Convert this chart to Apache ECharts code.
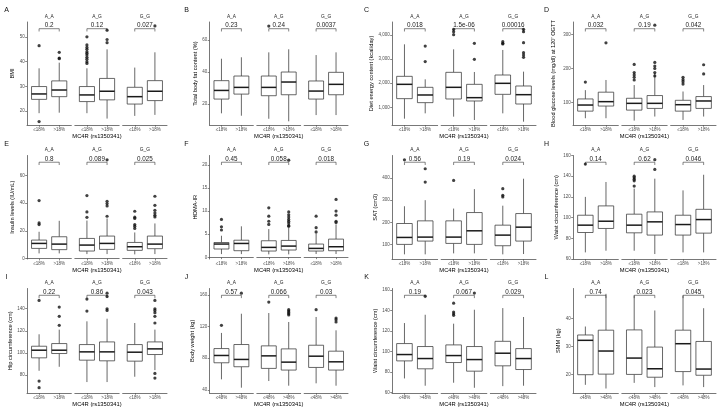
<!DOCTYPE html>
<html><head><meta charset="utf-8">
<script src="https://cdn.jsdelivr.net/npm/echarts@6/dist/echarts.min.js"></script>
<style>html,body{margin:0;padding:0;background:#fff}#c{width:724px;height:411px}</style>
</head><body><div id="c"></div>
<script>
// ---------------- DATA ----------------
const panelLetters = ['A','B','C','D','E','F','G','H','I','J','K','L'];
const yTitles = ['BMI','Total body fat content (%)','Diet energy content (kcal/day)',"Blood glucose levels (mg/dl) at 120' OGTT",
  'Insulin levels (IU/mL)','HOMA-IR','SAT (cm3)','Waist circumference (cm)',
  'Hip circumference (cm)','Body weight (kg)','Waist circumference (cm)','SMM (kg)'];
const genotypes = ['A_A','A_G','G_G'];
const groups18 = ['≤18%','>18%'];
const groups48 = ['≤48%','>48%'];
const xTitle = 'MC4R (rs1350341)';
const yTickValues = [
  [20,30,40,50],[20,40,60],[1000,2000,3000,4000],[100,200,300],
  [0,20,40,60],[0,5,10,15,20],[100,200,300,400],[60,80,100,120,140,160],
  [80,100,120,140],[40,80,120,160],[60,80,100,120,140,160],[20,30,40]
];
const yLimits = [
  [14.3,56.1],[6.9,71.25],[267,4540],[33,337.4],
  [-0.24,74.4],[-0.36,22],[34,502],[60,160],
  [63.8,158.3],[36.2,167.9],[59.4,161.3],[13.5,50.6]
];
const pValues = [
  ['0.2','0.12','0.027'],['0.23','0.24','0.0037'],['0.018','1.5e-06','0.00016'],['0.032','0.19','0.042'],
  ['0.8','0.089','0.025'],['0.45','0.058','0.018'],['0.56','0.19','0.024'],['0.14','0.62','0.046'],
  ['0.22','0.86','0.043'],['0.57','0.066','0.03'],['0.19','0.067','0.029'],['0.74','0.023','0.045']
];
// box stats per genotype: [[min,q1,median,q3,max] for low group, same for high group]
const bmiBoxes = [[[19.1,24.7,26.9,29.9,37.3],[19.3,25.8,28.5,32.2,39.6]],
                  [[19.1,23.8,26.5,29.9,37.3],[16.9,24.5,28.0,33.2,45.0]],
                  [[18.0,22.8,25.8,29.6,37.6],[18.4,24.2,28.0,32.3,43.8]]];
const bmiOutliers = [[[0,46.5],[0,15.7],[1,43.8],[1,41.5],[1,41.2]],
                     [[0,50.1],[0,46.8],[0,45.8],[0,45.0],[0,44.0],[0,43.4],[0,42.7],[0,41.8],[0,41.0],[0,40.0],[0,39.3],[1,52.8],[1,49.0],[1,47.7]],
                     [[1,54.5]]];
const fatBoxes = [[[14.2,23.1,28.5,34.6,48.3],[12.7,26.2,30.4,37.5,49.2]],
                  [[10.8,25.2,30.4,37.5,52.3],[9.2,25.8,33.75,40.0,54.2]],
                  [[13.1,23.1,28.1,34.4,50.6],[13.1,25.8,32.3,39.8,52.3]]];
const fatOutliers = [[],[[0,68.7]],[]];
const energyBoxes = [[[530,1360,1954,2286,3614],[751,1194,1512,1830,2162]],
                     [[613,1346,1830,2452,3406],[474,1263,1401,1954,2466]],
                     [[751,1539,1996,2341,3380],[405,1138,1525,1885,2480]]];
const energyOutliers = [[[1,2900],[1,3540]],
                        [[0,4236],[0,4139],[0,4015],[1,3655],[1,2991]],
                        [[0,3725],[0,3655],[0,3628],[1,4236],[1,4139],[1,3683],[1,3268],[1,3170],[1,3075]]];
const glucoseBoxes = [[[53,74,92,110,136],[53,89,102,130,166]],
                      [[46,77,97,112,151],[58,82,97,120,186]],
                      [[48,74,93,106,132],[58,82,104,117,151]]];
const glucoseOutliers = [[[0,160],[1,276]],
                         [[0,212],[0,188],[0,181],[0,174],[0,166],[1,328],[1,218],[1,207],[1,200],[1,188],[1,178]],
                         [[0,174],[0,167],[0,161],[0,154],[1,211],[1,184]]];
const insulinBoxes = [[[3.8,7.4,11.0,13.4,19.4],[3.8,6.5,10.5,15.8,27.3]],
                      [[3.3,5.5,9.8,14.6,27.5],[3.3,6.7,11.0,16.3,29.0]],
                      [[3.1,6.0,8.6,11.7,18.9],[3.3,7.2,10.5,16.3,25.4]]];
const insulinOutliers = [[[0,41.9],[0,25.8],[0,24.6]],
                         [[0,45.5],[0,33.7],[0,29.8],[1,71.3],[1,41.4],[1,39.7],[1,38.0],[1,30.6]],
                         [[0,34.2],[0,29.9],[0,29.0],[0,24.6],[0,23.4],[0,21.8],[1,45.0],[1,38.5],[1,34.9],[1,33.0],[1,31.3],[1,30.1]]];
const homaBoxes = [[[0.7,1.8,2.87,3.2,4.66],[0.7,1.43,3.0,3.7,6.7]],
                   [[0.64,1.36,2.15,3.58,6.1],[0.64,1.58,2.43,3.65,6.4]],
                   [[0.72,1.36,1.93,2.87,5.2],[0.72,1.43,2.29,3.94,7.1]]];
const homaOutliers = [[[0,8.2],[0,6.6],[0,5.9]],
                      [[0,10.7],[0,8.9],[0,7.8],[0,7.1],[1,21.0],[1,9.8],[1,9.2],[1,8.7],[1,8.2],[1,7.8],[1,7.4],[1,6.9],[1,6.7]],
                      [[0,8.9],[0,6.4],[0,5.5],[1,12.5],[1,10.0],[1,9.1],[1,7.8],[1,7.5]]];
const satBoxes = [[[55,100,131.5,194.5,272.5],[55,115,133,206.5,300]],
                  [[59.5,104.5,133,206.5,262],[59.5,100,161.5,244,350]],
                  [[55,94,142,187,275],[56.5,115,178,239.5,397]]];
const satOutliers = [[[0,482.5],[1,442],[1,382]],
                     [[0,389.5]],
                     [[0,352],[0,322],[0,314.5]]];
const waistBoxes = [[[66.4,85.6,92.7,102.3,120],[68,89.5,96.5,111.3,134.4]],
                    [[68,85.3,92.7,103.3,128],[64.8,83.1,95.9,105.5,137.6]],
                    [[66.4,83.1,93.3,102.3,126.3],[66.4,85,98.1,108,141.4]]];
const waistOutliers = [[[0,151.7]],
                       [[0,140],[0,138.5],[0,137],[0,135.5],[0,130.5],[1,156],[1,146.5]],
                       []];
const hipBoxes = [[[83.9,95.6,102.5,106.1,116.9],[87.5,99.5,102.5,108.5,121.1]],
                  [[73.7,93.5,101,107.6,128.6],[73.7,92.9,101,110,131]],
                  [[78.5,92.6,100.7,107.6,127.1],[84.5,98.6,103.7,110,121.1]]];
const hipOutliers = [[[0,147.5],[0,74.6],[0,68.6],[1,141.5],[1,133.1],[1,125]],
                     [[0,148.7],[0,137.9],[1,154.1],[1,151.1],[1,140],[1,138.5]],
                     [[1,147.5],[1,140],[1,138.5],[1,136.4],[1,133.1],[1,127.1],[1,81.5],[1,77.3]]];
const weightBoxes = [[[53.4,74.3,83.5,92.2,111.9],[42.9,69.3,78.5,97.3,136.1]],
                     [[51.3,67.2,83,95.6,137],[45.4,65.1,75.1,91.8,125.7]],
                     [[48.4,68.4,82.6,96.4,132],[45.4,65.1,75.5,88.9,115.2]]];
const weightOutliers = [[[0,121.5],[1,162]],
                        [[0,150.8],[1,141.2],[1,139.5],[1,137.8],[1,136.1],[1,134.5]],
                        [[0,141.2],[1,130.7],[1,128.6],[1,125.7]]];
const waist48Boxes = [[[73.6,90.7,96.9,107.6,127.6],[66.5,83,93,104.7,135.7]],
                      [[69.4,89.1,95.9,106.3,127],[64.5,80.7,92,104.7,140.6]],
                      [[66.1,85.9,98.2,109.8,142.2],[66.5,82.3,93,102.7,133.5]]];
const waist48Outliers = [[[1,153.8]],
                         [[0,147],[0,138.3],[0,136.7],[0,135.1],[1,156.8]],
                         []];
const smmBoxes = [[[16.4,20,32.2,34.1,37.1],[15.1,20.2,28.4,35.8,48.7]],
                  [[17.1,20.1,25.9,35.9,48.1],[15.6,19.1,22.1,29.8,42.8]],
                  [[16.2,21.1,31,35.8,48.1],[15.6,19.8,22,31.8,43.6]]];
const smmOutliers = [[],[],[]];

const panelBoxes = [bmiBoxes,fatBoxes,energyBoxes,glucoseBoxes,insulinBoxes,homaBoxes,satBoxes,waistBoxes,hipBoxes,weightBoxes,waist48Boxes,smmBoxes];
const panelOutliers = [bmiOutliers,fatOutliers,energyOutliers,glucoseOutliers,insulinOutliers,homaOutliers,satOutliers,waistOutliers,hipOutliers,weightOutliers,waist48Outliers,smmOutliers];
const panelGroups = [groups18,groups18,groups18,groups18,groups18,groups18,groups18,groups18,groups18,groups48,groups48,groups48];

// ---------------- LAYOUT / STYLE ----------------
const FONT = '"Liberation Sans", Arial, sans-serif';
const colX0 = [0,180,360,540];
const colAxisX = [27,209.5,392,573];
const colRight = [167,348,536,716];
const rowTop = [22,155.5,288.5];
const rowBottom = [125,259,393];
const facetGap = 3.5;
const nameGaps = [10.5,10.5,16,16.5, 10.5,10.5,11.5,8.5, 8.5,10.5,10.5,9.5];
const LINE = '#363636';
const AXIS = '#555';
const TICKFS = 4.5;

const grids = [], xAxes = [], yAxes = [], series = [], graphics = [];

function boxRender(params, api) {
  const x = api.value(0);
  const pMin = api.coord([x, api.value(1)]);
  const pQ1 = api.coord([x, api.value(2)]);
  const pMed = api.coord([x, api.value(3)]);
  const pQ3 = api.coord([x, api.value(4)]);
  const pMax = api.coord([x, api.value(5)]);
  const half = api.size([0.75, 0])[0] / 2;
  const cx = pMin[0];
  const st = {stroke: LINE, lineWidth: 0.75, fill: null};
  return {type:'group', children:[
    {type:'line', shape:{x1:cx,y1:pMax[1],x2:cx,y2:pQ3[1]}, style:st},
    {type:'line', shape:{x1:cx,y1:pQ1[1],x2:cx,y2:pMin[1]}, style:st},
    {type:'rect', shape:{x:cx-half,y:pQ3[1],width:2*half,height:pQ1[1]-pQ3[1]}, style:{fill:'#fff',stroke:LINE,lineWidth:0.75}},
    {type:'line', shape:{x1:cx-half,y1:pMed[1],x2:cx+half,y2:pMed[1]}, style:{stroke:'#1a1a1a',lineWidth:1.5}}
  ]};
}

panelBoxes.forEach((boxes, pi) => {
  const col = pi % 4, row = Math.floor(pi / 4);
  const L = colAxisX[col], R = colRight[col];
  const w = (R - L - 2 * facetGap) / 3;
  const top = rowTop[row], bottom = rowBottom[row];
  const lim = yLimits[pi];
  const span = lim[1] - lim[0];
  const cats = panelGroups[pi];
  for (let g = 0; g < 3; g++) {
    const gi = grids.length;
    const left = L + g * (w + facetGap);
    grids.push({left: left, top: top, width: w, height: bottom - top});
    xAxes.push({
      type:'value', gridIndex: gi, min: 0.4, max: 2.6,
      axisLine:{show:true, lineStyle:{color:AXIS, width:0.8}},
      axisTick:{show:true, length:1.8, customValues:[1,2], lineStyle:{color:AXIS, width:0.7}},
      axisLabel:{customValues:[1,2], formatter: v => cats[Math.round(v) - 1], fontSize:TICKFS, color:'#4d4d4d', margin:2.2, fontFamily:FONT},
      splitLine:{show:false}
    });
    if (g === 0) {
      yAxes.push({
        type:'value', gridIndex: gi, min: lim[0], max: lim[1],
        name: yTitles[pi], nameLocation:'middle', nameGap: nameGaps[pi],
        nameTextStyle:{fontSize:5.7, color:'#000', fontFamily:FONT},
        axisLine:{show:true, lineStyle:{color:AXIS, width:0.8}},
        axisTick:{show:true, length:1.8, customValues: yTickValues[pi], lineStyle:{color:AXIS, width:0.7}},
        axisLabel:{customValues: yTickValues[pi], fontSize:TICKFS, color:'#4d4d4d', margin:2.2, fontFamily:FONT},
        splitLine:{show:false}
      });
    } else {
      yAxes.push({type:'value', gridIndex: gi, min: lim[0], max: lim[1], show:false, splitLine:{show:false}});
    }
    series.push({
      type:'custom', xAxisIndex: gi, yAxisIndex: gi, silent:true,
      data: boxes[g].map((b, k) => [k + 1].concat(b)),
      renderItem: boxRender
    });
    series.push({
      type:'scatter', xAxisIndex: gi, yAxisIndex: gi, silent:true,
      symbolSize: 3.2, itemStyle:{color:'#111'},
      data: panelOutliers[pi][g].map(o => [o[0] + 1, o[1]])
    });
    const by = lim[1] - 0.065 * span, ty = by - 0.027 * span;
    const ptxt = pValues[pi][g];
    series.push({
      type:'custom', xAxisIndex: gi, yAxisIndex: gi, silent:true,
      data: [[1.5, by]],
      renderItem: (params, api) => {
        const a = api.coord([1, by]), b = api.coord([2, by]);
        const a2 = api.coord([1, ty]), b2 = api.coord([2, ty]);
        return {type:'group', children:[
          {type:'polyline', shape:{points:[a2, a, b, b2]}, style:{stroke:'#333', lineWidth:0.6, fill:null}},
          {type:'text', x:(a[0] + b[0]) / 2, y:a[1] - 0.3,
           style:{text: ptxt, fontSize:6.3, fontFamily:FONT, fill:'#222', align:'center', verticalAlign:'bottom'}}
        ]};
      }
    });
    graphics.push({type:'text', x: left + w / 2, y: top - 5.5,
      style:{text: genotypes[g], fontSize:4.8, fontFamily:FONT, fill:'#1a1a1a', align:'center', verticalAlign:'middle'}});
  }
  graphics.push({type:'text', x: colX0[col] + 6.5, y: top - 11.5,
    style:{text: panelLetters[pi], fontSize:7, fontFamily:FONT, fill:'#111', align:'center', verticalAlign:'middle'}});
  graphics.push({type:'text', x: (L + R) / 2, y: bottom + 11.5,
    style:{text: xTitle, fontSize:5.8, fontFamily:FONT, fill:'#000', align:'center', verticalAlign:'middle'}});
});

const chart = echarts.init(document.getElementById('c'), null, {renderer:'canvas', width:724, height:411});
chart.setOption({
  animation:false,
  backgroundColor:'#fff',
  textStyle:{fontFamily:FONT},
  grid: grids, xAxis: xAxes, yAxis: yAxes, series: series, graphic: graphics
});
</script>
</body></html>
